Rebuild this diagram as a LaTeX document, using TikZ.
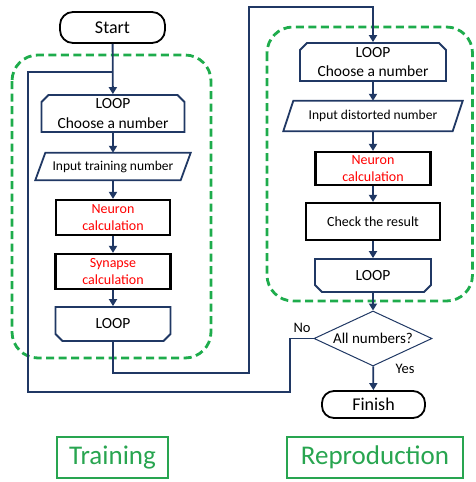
\documentclass[tikz,border=0pt]{standalone}
\usepackage{fontspec}
\setmainfont{Carlito}
\usetikzlibrary{shapes.misc,shapes.geometric,arrows.meta,calc}
\definecolor{navy}{RGB}{32,56,100}
\definecolor{grn}{RGB}{30,172,76}
\definecolor{lblgrn}{RGB}{40,165,80}
\begin{document}
\begin{tikzpicture}[x=1pt,y=-1pt,
  conn/.style={draw=navy,line width=1.8pt},
  arr/.style={-{Triangle[width=8pt,length=7pt]}},
  fs/.style={font=\fontsize{#1}{#1}\selectfont},
  term/.style={draw=black,line width=1.8pt,rounded corners=13pt,inner sep=0pt,fs=18},
  loopstart/.style={chamfered rectangle,chamfered rectangle corners={north west,north east},
    chamfered rectangle sep=3.5pt,draw=navy,line width=1.8pt,inner sep=0pt,align=center},
  loopend/.style={chamfered rectangle,chamfered rectangle corners={south west,south east},
    chamfered rectangle sep=3.5pt,draw=navy,line width=1.8pt,inner sep=0pt,align=center},
  iobox/.style={inner sep=0pt},
  proc/.style={draw=black,line width=2.2pt,inner sep=0pt,align=center},
  redtxt/.style={text=red,font=\fontsize{14}{17}\selectfont},
  grpbox/.style={draw=grn,line width=2.8pt,dash pattern=on 8pt off 4.5pt,rounded corners=26pt},
  lbl/.style={draw=lblgrn,line width=2.2pt,text=lblgrn,inner sep=0pt,font=\fontsize{27}{30}\selectfont}
]
\useasboundingbox (0,0) rectangle (475,482);

% group boxes
\draw[grpbox] (12,55) rectangle (211,358);
\draw[grpbox] (267,27) rectangle (472.5,301);

% left column
\node[term,minimum width=105pt,minimum height=31pt] (start) at (112.5,27.5) {Start};
\node[loopstart,minimum width=143pt,minimum height=37pt,font=\fontsize{15.5}{19.5}\selectfont] (lp1) at (113,113.5) {LOOP\\Choose a number};
\node[iobox,minimum width=155pt,minimum height=27pt,fs=13.5] (in1) at (113,166.5) {Input training number};
\draw[navy,line width=1.8pt] ($(in1.north west)+(10,0)$) -- (in1.north east) -- ($(in1.south east)-(10,0)$) -- (in1.south west) -- cycle;
\node[proc,minimum width=114pt,minimum height=35pt,redtxt] (n1) at (113,217.5) {Neuron\\calculation};
\node[proc,minimum width=115pt,minimum height=35pt,redtxt] (s1) at (113,271.5) {Synapse\\calculation};
\node[loopend,minimum width=115pt,minimum height=34pt,fs=15.5] (lp2) at (113,324) {LOOP};
\node[lbl,minimum width=111pt,minimum height=41pt] (train) at (112.5,457.5) {Training};

% right column
\node[loopstart,minimum width=146pt,minimum height=38pt,font=\fontsize{15.5}{19.5}\selectfont] (rlp1) at (373,62) {LOOP\\Choose a number};
\node[iobox,minimum width=179pt,minimum height=30pt,fs=13.5] (rin) at (373,116) {Input distorted number};
\draw[navy,line width=1.8pt] ($(rin.north west)+(10,0)$) -- (rin.north east) -- ($(rin.south east)-(10,0)$) -- (rin.south west) -- cycle;
\node[proc,minimum width=115pt,minimum height=33pt,redtxt] (rn) at (373,168.5) {Neuron\\calculation};
\node[proc,minimum width=134pt,minimum height=37pt,fs=14] (rc) at (373,221.5) {Check the result};
\node[loopend,minimum width=116pt,minimum height=33pt,fs=15.5] (rlp2) at (373,275.5) {LOOP};
\node[diamond,draw=navy,line width=1pt,inner sep=0pt,aspect=2.15,minimum width=118pt,minimum height=55pt,fs=15] (dia) at (373,338.5) {All numbers?};
\node[term,minimum width=103pt,minimum height=27pt,rounded corners=12pt] (fin) at (373.5,404.5) {Finish};
\node[lbl,minimum width=176pt,minimum height=41pt] (repro) at (375,457.5) {Reproduction};

\node[fs=14.5,inner sep=0pt] (no) at (302,328) {No};
\node[fs=14.5,inner sep=0pt] (yes) at (405,369) {Yes};

% connectors
\coordinate (j) at (113,72);
\coordinate (b1) at (249,373);
\coordinate (b2) at (249,7);
\coordinate (nb1) at (290,392);
\coordinate (nb2) at (28,392);

\draw[conn,arr] (start) -- (lp1);
\draw[conn,arr] (lp1) -- (in1);
\draw[conn,arr] (in1) -- (n1);
\draw[conn,arr] (n1) -- (s1);
\draw[conn,arr] (s1) -- (lp2);
\draw[conn,arr] (lp2.south) |- (b1) -- (b2) -| (rlp1.north);
\draw[conn,arr] (rlp1) -- (rin);
\draw[conn,arr] (rin) -- (rn);
\draw[conn,arr] (rn) -- (rc);
\draw[conn,arr] (rc) -- (rlp2);
\draw[conn,arr] (rlp2) -- (dia);
\draw[conn,arr] (dia) -- (fin);
\draw[conn] (dia.west) -| (nb1) -- (nb2) |- (j);
\end{tikzpicture}
\end{document}
